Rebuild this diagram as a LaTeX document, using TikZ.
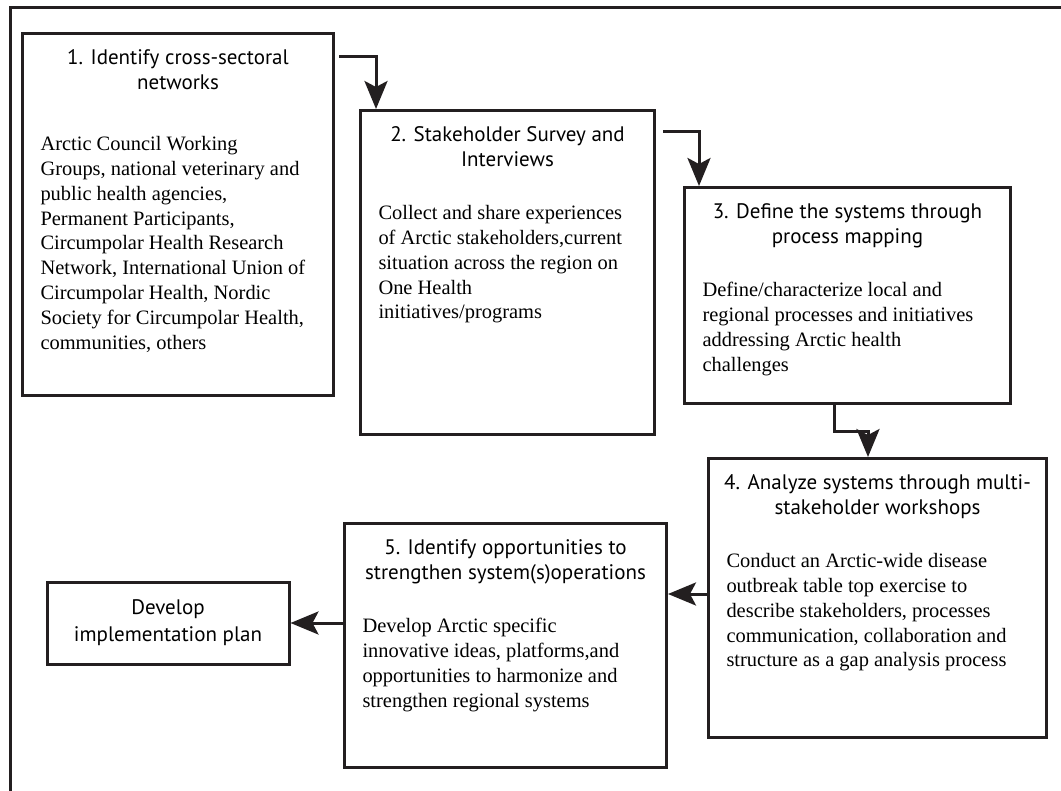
\documentclass[tikz,border=0pt]{standalone}
\usepackage{fontspec}
\setmainfont{Liberation Serif}
\newfontfamily\headfont{PT Sans}
\usetikzlibrary{arrows.meta,positioning}
\definecolor{ink}{HTML}{231F20}

\newcommand{\stagetext}[5][28pt]{%
  \begin{minipage}[t][#3pt][t]{#2pt}
    \vspace*{14pt}
    {\centering\headfont\fontsize{21}{25}\selectfont\strut #4\par}
    \vspace{#1}
    {\raggedright\leftskip=18pt\fontsize{20.45}{24.8}\selectfont #5\par}
  \end{minipage}}

\tikzset{
  stage/.style={draw=ink, line width=3pt, inner sep=0pt, anchor=north west},
  flow/.style={draw=ink, line width=3pt, -{Stealth[length=28pt,width=23pt,inset=6pt]}}
}

\begin{document}
\begin{tikzpicture}[x=1pt, y=-1pt]
  \useasboundingbox (0,0) rectangle (1061,791);
  \draw[ink, line width=3pt] (1061,8) -- (10,8) -- (10,791);

  \node[stage] (s1) at (21,32) {\stagetext[36pt]{311}{362}{1. Identify cross-sectoral\\networks}{Arctic Council Working\\Groups, national veterinary and\\public health agencies,\\Permanent Participants,\\Circumpolar Health Research\\Network, International Union of\\Circumpolar Health, Nordic\\Society for Circumpolar Health,\\communities, others}};
  \node[stage] (s2) at (359,109) {\stagetext{294}{324}{2. Stakeholder Survey and\\Interviews}{Collect and share experiences\\of Arctic stakeholders,current\\situation across the region on\\One Health\\initiatives/programs}};
  \node[stage] (s3) at (683,186) {\stagetext{326}{216}{3. Define the systems through\\process mapping}{Define/characterize local and\\regional processes and initiatives\\addressing Arctic health\\challenges}};
  \node[stage] (s4) at (707,457) {\stagetext{338}{279}{4. Analyze systems through multi-\\stakeholder workshops}{Conduct an Arctic-wide disease\\outbreak table top exercise to\\describe stakeholders, processes\\communication, collaboration and\\structure as a gap analysis process}};
  \node[stage] (s5) at (343,522) {\stagetext{322}{244}{5. Identify opportunities to\\strengthen system(s)operations}{Develop Arctic specific\\innovative ideas, platforms,and\\opportunities to harmonize and\\strengthen regional systems}};
  \node[stage, anchor=center, minimum width=242pt, minimum height=82pt, align=center,
        font={\headfont\fontsize{21}{27}\selectfont}] (plan) at (168,623) {Develop\\implementation plan};

  \draw[flow] ([shift={(4,25)}]s1.north east) -| ([xshift=17]s2.north west);
  \draw[flow] ([shift={(7,23)}]s2.north east) -| ([xshift=16]s3.north west);
  \draw[flow] ([xshift=151]s3.south west) -- ++(0,27) -| ([xshift=161]s4.north west);
  \draw[flow] ([yshift=-137]s4.north west) -- ([yshift=-137]s4.north west -| s5.east);
  \draw[flow] (s5.west |- plan.east) -- (plan.east);
\end{tikzpicture}
\end{document}
